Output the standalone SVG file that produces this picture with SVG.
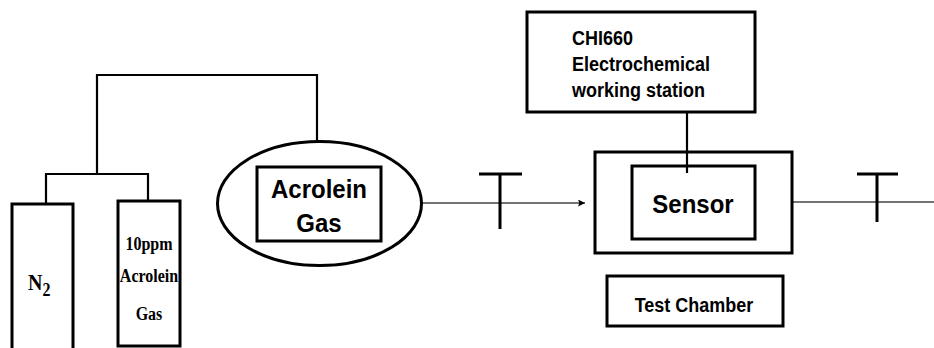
<svg xmlns="http://www.w3.org/2000/svg" width="934" height="348" viewBox="0 0 934 348">
<style>
.box{fill:#fff;stroke:#000;stroke-width:3}
.pipe{fill:none;stroke:#000;stroke-width:2.2}
.thin{fill:none;stroke:#444;stroke-width:1.3}
.valve{fill:none;stroke:#000;stroke-width:3}
.sans{font-family:"Liberation Sans",Arial,sans-serif;font-weight:bold;fill:#000}
.serif{font-family:"Liberation Serif","Times New Roman",serif;font-weight:bold;fill:#000}
</style>
<defs>
<marker id="arr" viewBox="0 0 10 10" refX="10" refY="5" markerWidth="7" markerHeight="7" markerUnits="userSpaceOnUse" orient="auto">
<path d="M0,0 L10,5 L0,10 L2,5 Z" fill="#000"/>
</marker>
</defs>
<rect width="934" height="348" fill="#fff"/>
<g id="connectors">
<path class="pipe" d="M97,174 V75 H317 V141"/>
<path class="pipe" d="M46,204 V174 H148 V201"/>
<line class="thin" x1="422" y1="203" x2="585" y2="203" marker-end="url(#arr)"/>
<line class="thin" x1="792" y1="202" x2="934" y2="202"/>
<path class="pipe" d="M687,105 V173"/>
</g>
<g id="valve1">
<path class="valve" d="M479,174 H522 M500,174 V229"/>
</g>
<g id="valve2">
<path class="valve" d="M857,174 H898 M877,174 V222"/>
</g>
<g id="n2">
<rect class="box" x="12" y="204" width="61" height="160"/>
<text class="serif" transform="translate(28,290) scale(1,1.12)" font-size="20">N<tspan font-size="16" dy="5">2</tspan></text>
</g>
<g id="acrolein-cylinder">
<rect class="box" x="118" y="201" width="62" height="145"/>
<text class="serif" text-anchor="middle" font-size="16" transform="translate(149,250) scale(1,1.15)">10ppm</text>
<text class="serif" text-anchor="middle" font-size="16" transform="translate(149,282) scale(1,1.15)">Acrolein</text>
<text class="serif" text-anchor="middle" font-size="16" transform="translate(149,320) scale(1,1.15)">Gas</text>
</g>
<g id="acrolein-gas">
<ellipse class="box" cx="319.5" cy="203.5" rx="102" ry="62"/>
<rect class="box" x="257" y="167" width="124" height="74"/>
<text class="sans" text-anchor="middle" font-size="24" transform="translate(319,198) scale(1,1.08)">Acrolein</text>
<text class="sans" text-anchor="middle" font-size="24" transform="translate(319,232) scale(1,1.08)">Gas</text>
</g>
<g id="chi660">
<rect class="box" x="527" y="12" width="228" height="100"/>
<text class="sans" font-size="18" transform="translate(572,45) scale(1,1.12)">CHI660</text>
<text class="sans" font-size="18" transform="translate(572,71) scale(1,1.12)">Electrochemical</text>
<text class="sans" font-size="18" transform="translate(572,97) scale(1,1.12)">working station</text>
</g>
<g id="chamber">
<rect class="box" x="595" y="152" width="197" height="101"/>
<rect class="box" x="632" y="166" width="123" height="73"/>
<line x1="687" y1="152" x2="687" y2="173" stroke="#000" stroke-width="2.2"/>
<text class="sans" text-anchor="middle" font-size="24" transform="translate(693,213) scale(1,1.08)">Sensor</text>
</g>
<g id="test-chamber">
<rect class="box" x="607" y="276" width="176" height="50"/>
<text class="sans" text-anchor="middle" font-size="18" transform="translate(694,312) scale(1,1.12)">Test Chamber</text>
</g>
</svg>
